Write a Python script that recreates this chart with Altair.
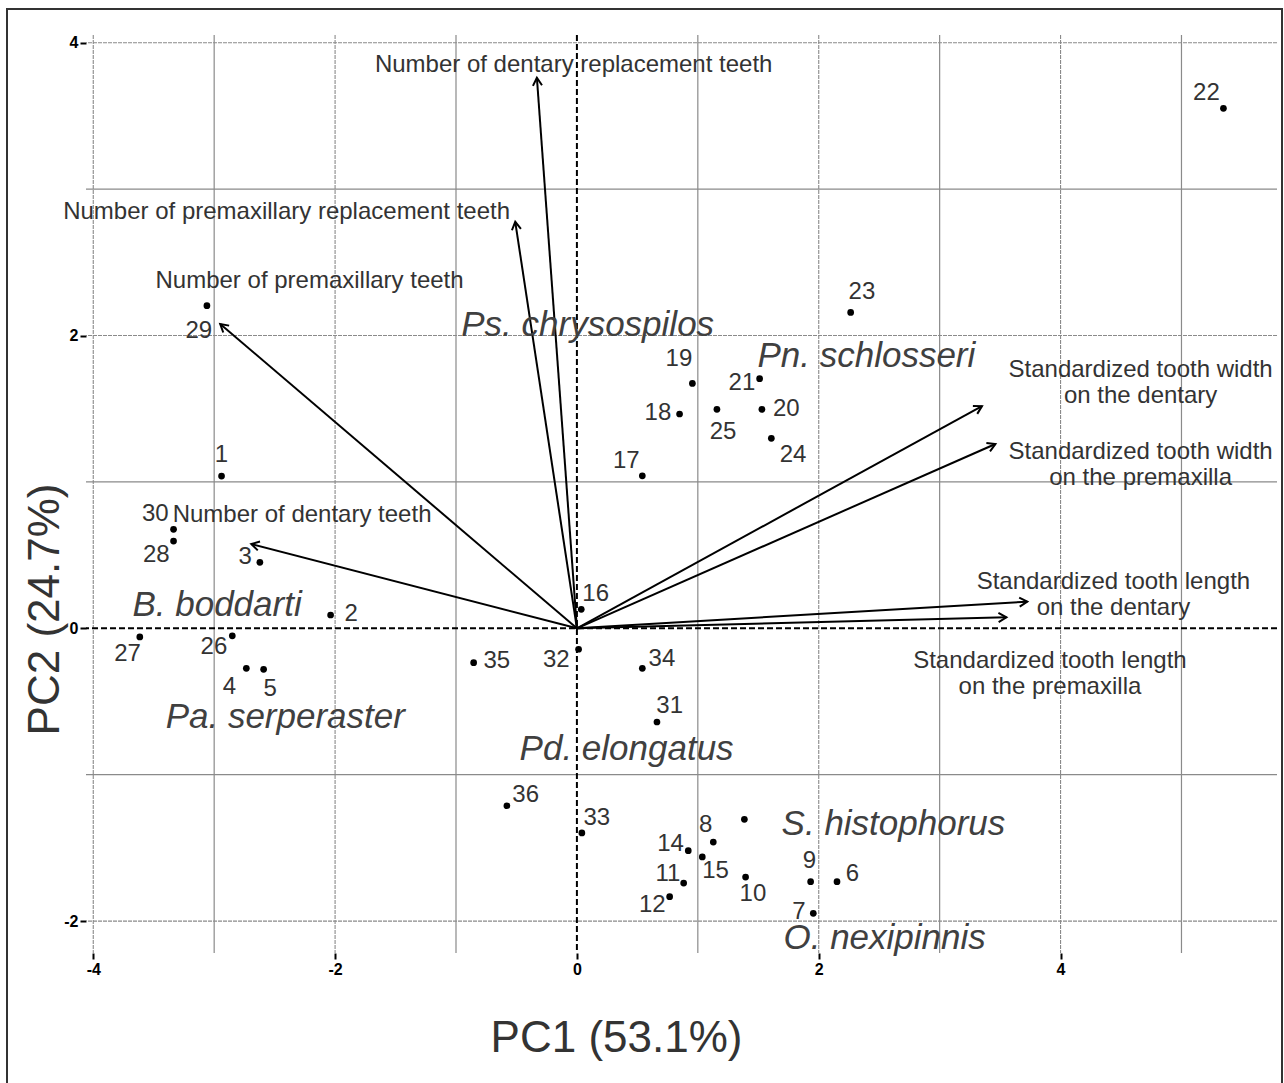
import math
import altair as alt
import pandas as pd

# ---------------- data ----------------
ids = list(range(1, 37))
pc1 = [-2.939, -2.037, -2.622, -2.734, -2.591, 2.151, 1.955, 1.128, 1.933, 1.395,
       0.883, 0.767, 1.385, 0.921, 1.037, 0.036, 0.541, 0.849, 0.955, 1.530,
       1.511, 5.347, 2.264, 1.608, 1.158, -2.850, -3.615, -3.336, -3.060, -3.336,
       0.662, 0.014, 0.041, 0.541, -0.854, -0.579]
pc2 = [1.040, 0.091, 0.451, -0.273, -0.280, -1.731, -1.947, -1.460, -1.731, -1.699,
       -1.740, -1.833, -1.305, -1.519, -1.562, 0.130, 1.042, 1.464, 1.673, 1.496,
       1.705, 3.552, 2.158, 1.298, 1.496, -0.051, -0.059, 0.596, 2.204, 0.676,
       -0.640, -0.143, -1.398, -0.273, -0.235, -1.212]
# label anchor positions (data units); specimen 13 carries no label
lab_x = [-2.941, -1.866, -2.743, -2.873, -2.536, 2.278, 1.836, 1.065, 1.922, 1.456,
         0.753, 0.624, None, 0.775, 1.147, 0.155, 0.409, 0.670, 0.844, 1.732,
         1.365, 5.206, 2.357, 1.787, 1.208, -3.002, -3.716, -3.479, -3.127, -3.487,
         0.767, -0.170, 0.165, 0.703, -0.662, -0.424]
lab_y = [1.184, 0.098, 0.489, -0.403, -0.415, -1.680, -1.936, -1.344, -1.592, -1.813,
         -1.680, -1.890, None, -1.475, -1.656, 0.234, 1.143, 1.469, 1.837, 1.498,
         1.673, 3.654, 2.295, 1.186, 1.343, -0.126, -0.176, 0.501, 2.033, 0.779,
         -0.531, -0.217, -1.298, -0.210, -0.223, -1.139]

arrow_text = ["Number of dentary replacement teeth",
              "Number of premaxillary replacement teeth",
              "Number of premaxillary teeth",
              "Number of dentary teeth",
              "Standardized tooth width\non the dentary",
              "Standardized tooth width\non the premaxilla",
              "Standardized tooth length\non the dentary",
              "Standardized tooth length\non the premaxilla"]
arrow_x = [-0.331, -0.510, -2.950, -2.693, 3.350, 3.461, 3.725, 3.552]
arrow_y = [3.761, 2.777, 2.079, 0.576, 1.518, 1.259, 0.182, 0.075]
arrow_lx = [-0.027, -2.401, -2.211, -2.273, 4.662, 4.662, 4.437, 3.912]
arrow_ly = [3.848, 2.844, 2.372, 0.774, 1.764, 1.204, 0.316, -0.223]

species = ["Ps. chrysospilos", "Pn. schlosseri", "B. boddarti", "Pa. serperaster",
           "Pd. elongatus", "S. histophorus", "O. nexipinnis"]
species_x = [0.089, 2.394, -2.976, -2.412, 0.411, 2.618, 2.545]
species_y = [2.072, 1.860, 0.159, -0.604, -0.824, -1.337, -2.115]

x_ticks = [-4, -2, 0, 2, 4]
y_ticks = [-2, 0, 2, 4]
grid_x_major = [-4, -2, 2, 4]
grid_x_minor = [-3, -1, 1, 3, 5]
grid_y_major = [-2, 2, 4]
grid_y_minor = [-1, 1, 3]

# ---------------- layout ----------------
W, H = 1191, 918
XD = [-4.06, 5.79]
YD = [-2.218, 4.053]
FONT = "Liberation Sans"

pts = pd.DataFrame({"id": ids, "x": pc1, "y": pc2})
labs = pd.DataFrame({"id": [str(i) for i in ids], "x": lab_x, "y": lab_y}).dropna()
sx = W / (XD[1] - XD[0])
sy = H / (YD[1] - YD[0])
arr = pd.DataFrame({"name": arrow_text, "x": arrow_x, "y": arrow_y,
                    "lx": arrow_lx, "ly": arrow_ly})
arr["x0"] = 0.0
arr["y0"] = 0.0
arr["ang"] = [(math.degrees(math.atan2(a * sx, b * sy))) % 360 for a, b in zip(arrow_x, arrow_y)]
spc = pd.DataFrame({"name": species, "x": species_x, "y": species_y})

xs = alt.Scale(domain=XD, nice=False, zero=False)
ys = alt.Scale(domain=YD, nice=False, zero=False)

x_axis = alt.Axis(values=x_ticks, labelExpr="toString(datum.value)",
                  title="PC1 (53.1%)", titleX=530, titleY=85,
                  titleAlign="center", titleBaseline="middle")
y_axis = alt.Axis(values=y_ticks, labelExpr="toString(datum.value)",
                  title="PC2 (24.7%)", titleX=-41, titleY=574, titleAngle=270,
                  titleAlign="center", titleBaseline="middle")


def X(field):
    return alt.X(field, scale=xs, axis=x_axis)


def Y(field):
    return alt.Y(field, scale=ys, axis=y_axis)


border = alt.Chart(pd.DataFrame({"a": [0]})).mark_rect(
    fill=None, stroke="#333333", strokeWidth=2
).encode(x=alt.value(-79), x2=alt.value(1196), y=alt.value(-26), y2=alt.value(1070))

gx_major = alt.Chart(pd.DataFrame({"x": grid_x_major})).mark_rule(
    color="#8a8a8a", strokeWidth=1.1, strokeDash=[4, 1]
).encode(x=X("x:Q"))
gx_minor = alt.Chart(pd.DataFrame({"x": grid_x_minor})).mark_rule(
    color="#8a8a8a", strokeWidth=1.2
).encode(x=X("x:Q"))
gy_major = alt.Chart(pd.DataFrame({"y": grid_y_major})).mark_rule(
    color="#8a8a8a", strokeWidth=1.1, strokeDash=[4, 1]
).encode(y=Y("y:Q"))
gy_minor = alt.Chart(pd.DataFrame({"y": grid_y_minor})).mark_rule(
    color="#8a8a8a", strokeWidth=1.2
).encode(y=Y("y:Q"))

zero_v = alt.Chart(pd.DataFrame({"x": [0]})).mark_rule(
    color="black", strokeWidth=2, strokeDash=[6, 3]
).encode(x=X("x:Q"))
zero_h = alt.Chart(pd.DataFrame({"y": [0]})).mark_rule(
    color="black", strokeWidth=2, strokeDash=[6, 3]
).encode(y=Y("y:Q"))

shafts = alt.Chart(arr).mark_rule(color="black", strokeWidth=2).encode(
    x=X("x0:Q"), y=Y("y0:Q"), x2="x:Q", y2="y:Q")
heads = alt.Chart(arr).mark_point(
    shape="M -0.5 0.866 L 0 0 L 0.5 0.866", filled=False, stroke="black",
    strokeWidth=2, size=330, opacity=1
).encode(x=X("x:Q"), y=Y("y:Q"), angle=alt.Angle("ang:Q", scale=None))

points = alt.Chart(pts).mark_circle(size=45, color="black", opacity=1).encode(
    x=X("x:Q"), y=Y("y:Q"))

pt_labels = alt.Chart(labs).mark_text(
    font=FONT, fontSize=24, color="#333333", align="center", baseline="middle"
).encode(x=X("x:Q"), y=Y("y:Q"), text="id:N")

arrow_labels = alt.Chart(arr).mark_text(
    font=FONT, fontSize=24, color="#333333", align="center", baseline="middle",
    lineBreak="\n", lineHeight=26
).encode(x=X("lx:Q"), y=Y("ly:Q"), text="name:N")

species_labels = alt.Chart(spc).mark_text(
    font=FONT, fontSize=35, fontStyle="italic", color="#404040",
    align="center", baseline="middle"
).encode(x=X("x:Q"), y=Y("y:Q"), text="name:N")

chart = alt.layer(
    border, gx_major, gx_minor, gy_major, gy_minor, zero_v, zero_h,
    shafts, heads, points, pt_labels, arrow_labels, species_labels
).properties(
    width=W, height=H,
    autosize=alt.AutoSizeParams(type="none"),
    padding={"left": 86, "top": 35, "right": 7, "bottom": 130},
    background="white"
).configure_view(stroke=None).configure_axis(
    grid=False, domain=False, ticks=True, tickColor="black", tickWidth=2, tickSize=6,
    labelFont=FONT, labelFontWeight="bold", labelFontSize=16, labelColor="black",
    labelPadding=2, titleFont=FONT, titleFontSize=44, titleFontWeight="normal",
    titleColor="#333333"
)

chart.save("out.html", embed_options={"renderer": "svg", "actions": False})
